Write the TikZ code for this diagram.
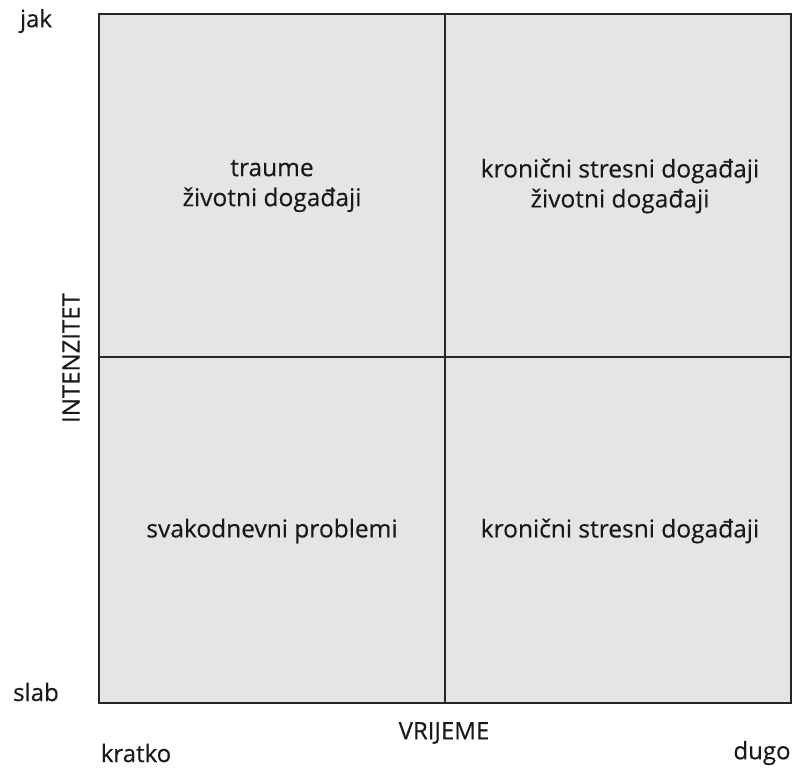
\documentclass[tikz,border=0pt]{standalone}
\usepackage{fontspec}
\setmainfont{Open Sans}
\newfontfamily\medfont[FakeBold=0.35]{Open Sans}
\usetikzlibrary{positioning}

\begin{document}
\begin{tikzpicture}[x=1pt,y=-1pt,
    quad/.style={align=center,font=\medfont\fontsize{24.5}{30}\selectfont,text=black!90},
    axis/.style={font=\medfont\fontsize{24}{28}\selectfont,text=black!90}]
    \useasboundingbox (0,0) rectangle (795,769);
    \coordinate (nw) at (99,14);
    \coordinate (se) at (791,703);
    \coordinate (c) at (445,357);
    \fill[black!10] (nw) rectangle (se);
    \draw[line width=2pt,black!85] (nw) rectangle (se);
    \draw[line width=2pt,black!85] (nw -| c) -- (se -| c);
    \draw[line width=2pt,black!85] (nw |- c) -- (se |- c);
    % quadrants
    \node[quad] (tl) at (272,186) {traume\\životni događaji};
    \node[quad] (tr) at (620,186) {kronični stresni događaji\\životni događaji};
    \node[quad] (bl) at (272,531) {svakodnevni problemi};
    \node[quad] (br) at (620,531) {kronični stresni događaji};
    % axes
    \node[axis] (jak) at (36,21) {jak};
    \node[axis] (slab) at (36,692) {slab};
    \node[axis,rotate=90] (int) at (71,358) {INTENZITET};
    \node[axis] (kratko) at (136,753) {kratko};
    \node[axis] (dugo) at (762,753) {dugo};
    \node[axis] (vrij) at (444,733) {VRIJEME};
\end{tikzpicture}
\end{document}
